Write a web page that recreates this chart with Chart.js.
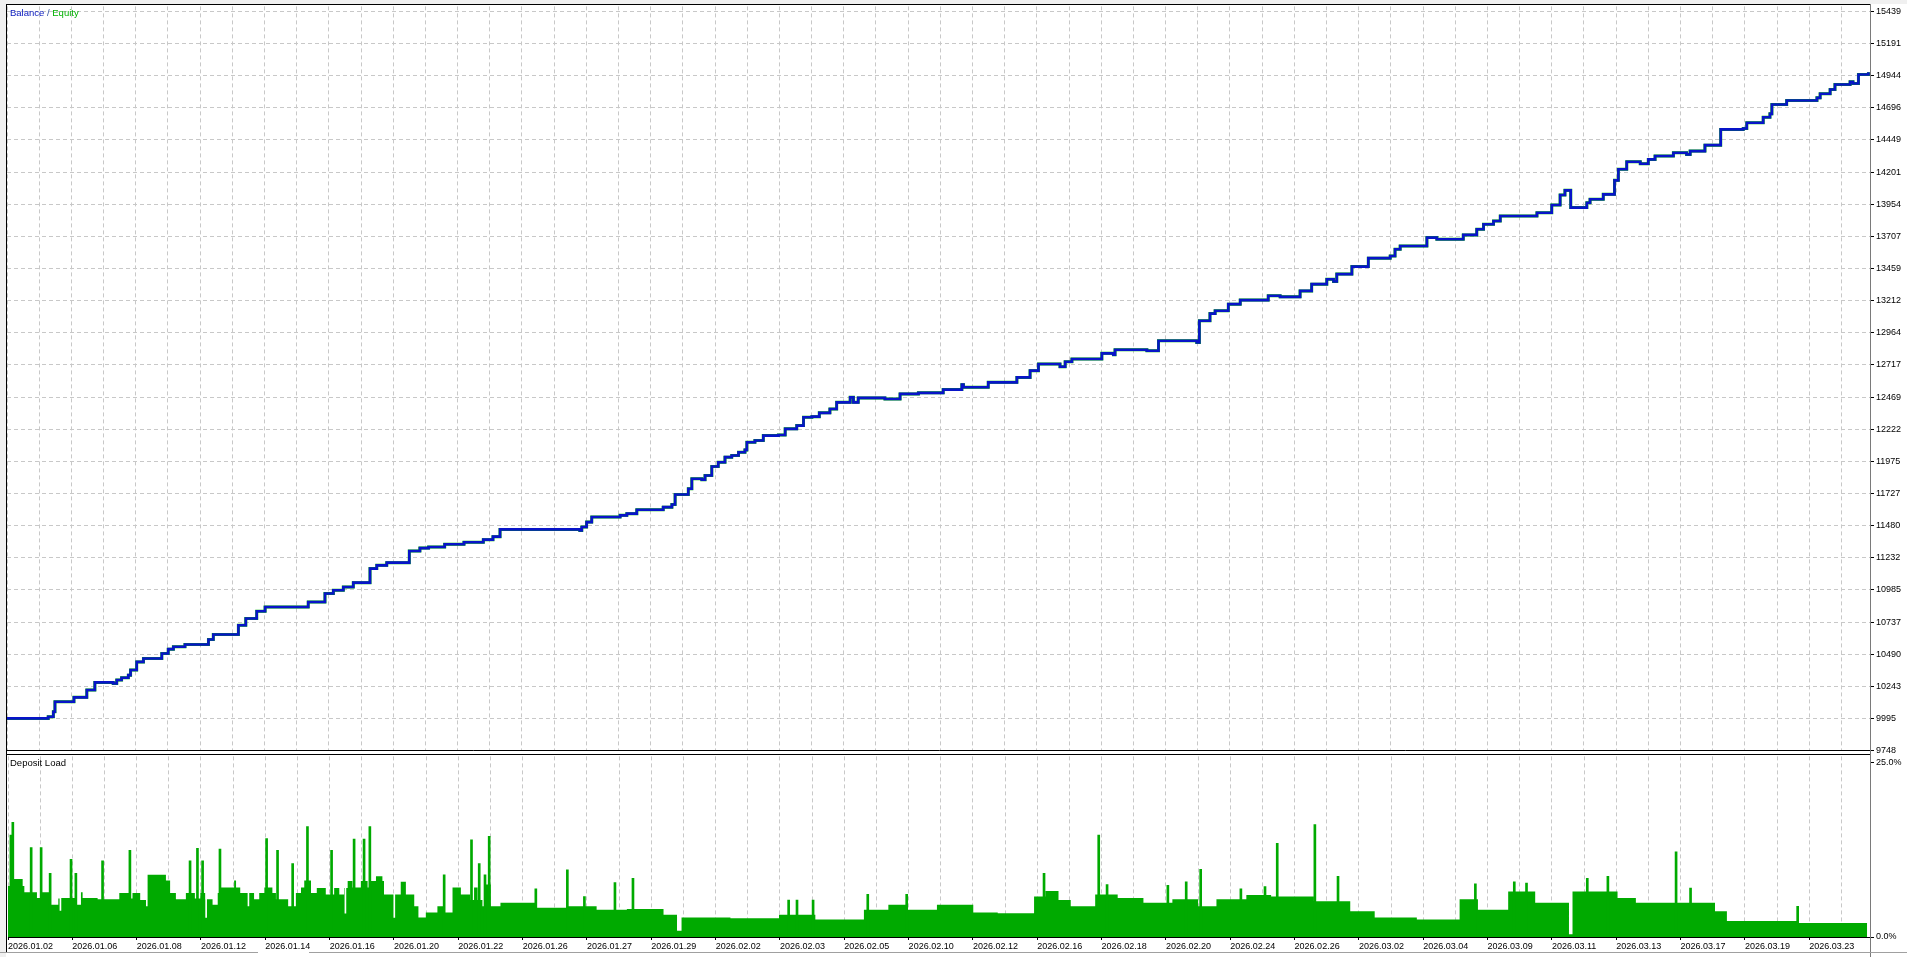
<!DOCTYPE html>
<html>
<head>
<meta charset="utf-8">
<script src="https://cdn.jsdelivr.net/npm/chart.js@4.4.1/dist/chart.umd.min.js"></script>
<style>
  html, body { margin: 0; padding: 0; background: #fff; }
  body { width: 1907px; height: 957px; position: relative; overflow: hidden;
         font-family: 'Liberation Sans', Arial, sans-serif; }
  .abs { position: absolute; }
  #cTop { position: absolute; left: 7px; top: -1px; }
  #cBot { position: absolute; left: 7px; top: 749px; }
  .lbl { position: absolute; font-size: 9.5px; white-space: nowrap; line-height: 11px; }
</style>
</head>
<body>
<div class="abs" style="left:0;top:0;width:1907px;height:4px;background:#f0f0f0"></div>
<div class="abs" style="left:0;top:0;width:6px;height:957px;background:#f0f0f0"></div>
<canvas id="cTop" width="1900" height="759"></canvas>
<canvas id="cBot" width="1900" height="204"></canvas>
<div class="abs" style="left:6px;top:4px;width:1865px;height:1px;background:#000"></div>
<div class="abs" style="left:6px;top:4px;width:1px;height:948px;background:#000"></div>
<div class="abs" style="left:6px;top:754px;width:1865px;height:1px;background:#000"></div>
<div class="abs" style="left:1870px;top:4px;width:1px;height:953px;background:#7a7a7a"></div>
<div class="abs" style="left:0;top:952px;width:258px;height:1px;background:#a0a0a0"></div>
<div class="abs" style="left:309px;top:952px;width:1598px;height:1px;background:#a0a0a0"></div>
<div class="lbl" style="left:10px;top:7px"><span style="color:#1020c0">Balance</span><span style="color:#3050a0"> / </span><span style="color:#00b000">Equity</span></div>
<div class="lbl" style="left:10px;top:757px;color:#000">Deposit Load</div>
<script>
// x = deal number (10 per grid cell), dates every 20 deals
const dateLabels = ['2026.01.02','2026.01.06','2026.01.08','2026.01.12','2026.01.14','2026.01.16','2026.01.20',
  '2026.01.22','2026.01.26','2026.01.27','2026.01.29','2026.02.02','2026.02.03','2026.02.05','2026.02.10',
  '2026.02.12','2026.02.16','2026.02.18','2026.02.20','2026.02.24','2026.02.26','2026.03.02','2026.03.04',
  '2026.03.09','2026.03.11','2026.03.13','2026.03.17','2026.03.19','2026.03.23'];

const balanceTicks = [9748, 9995, 10243, 10490, 10737, 10985, 11232, 11480, 11727, 11975, 12222, 12469,
  12717, 12964, 13212, 13459, 13707, 13954, 14201, 14449, 14696, 14944, 15191, 15439];
const loadTicks = [0, 25];

const balanceX = [0, 12.8, 14.4, 14.9, 20.8, 24.8, 27.3, 33.0, 34.1, 35.6, 37.7, 38.4, 40.3, 42.4, 48.1, 50.1,
  51.7, 55.3, 62.6, 64.1, 71.9, 74.2, 77.6, 80.2, 93.6, 98.8, 101.4, 104.5, 107.6, 112.8, 114.9, 118.0, 125.0,
  128.3, 131, 136, 142, 148, 151, 153.2, 178.0, 178.6, 180.1, 181.7, 190.5, 192.6, 195.7, 203.9, 206.6, 207.6,
  211.7, 212.8, 215.9, 216.9, 219.0, 221.0, 223.1, 225.2, 227.3, 229.3, 229.9, 232.4, 235.0, 239.7, 241.8,
  245.4, 247.5, 250.1, 252.4, 255.7, 257.8, 262.0, 263.0, 264.5, 272.8, 277.5, 283.2, 290.9, 296.7, 297.2,
  304.9, 313.8, 317.9, 320.5, 327.2, 328.8, 330.9, 340.2, 343.8, 344.3, 354.2, 357.8, 369.7, 370.5, 373.8,
  375.4, 379.5, 383.2, 391.9, 395.6, 401.8, 405.4, 410.1, 412.2, 413.2, 417.9, 423.0, 429.8, 431.3, 432.9,
  441.2, 444.3, 452.5, 456.7, 458.8, 461.9, 464.0, 475.4, 480.0, 482.6, 484.1, 485.9, 490.9, 491.9, 496.0,
  499.5, 500.7, 503.3, 507.5, 510.0, 512.1, 517.8, 521.9, 523.0, 527.6, 532.5, 539.5, 540.6, 545.7, 547.8,
  548.4, 553.0, 562.4, 563.4, 566.5, 568.0, 572.7, 573.6, 575.3, 578.4];
const balanceY = [9996, 10009, 10047, 10124, 10158, 10214, 10273, 10265, 10291, 10309, 10329, 10368, 10431,
  10457, 10496, 10529, 10547, 10565, 10603, 10642, 10713, 10765, 10821, 10854, 10892, 10957, 10982, 11008,
  11041, 11149, 11174, 11195, 11284, 11307, 11315, 11336, 11352, 11372, 11395, 11451, 11443, 11469, 11507,
  11546, 11559, 11572, 11602, 11622, 11643, 11720, 11764, 11841, 11833, 11866, 11935, 11968, 12007, 12020,
  12045, 12063, 12122, 12135, 12173, 12178, 12225, 12250, 12314, 12319, 12348, 12378, 12429, 12468, 12429,
  12463, 12455, 12494, 12502, 12527, 12565, 12545, 12583, 12621, 12673, 12724, 12703, 12742, 12763, 12806,
  12796, 12834, 12826, 12903, 12890, 13057, 13112, 13134, 13185, 13216, 13249, 13241, 13287, 13339, 13377,
  13359, 13416, 13474, 13539, 13556, 13608, 13633, 13697, 13684, 13718, 13762, 13800, 13825, 13864, 13889,
  13948, 14025, 14061, 13928, 13966, 13992, 14030, 14138, 14223, 14281, 14266, 14299, 14325, 14350, 14337,
  14363, 14409, 14530, 14537, 14581, 14624, 14650, 14722, 14753, 14773, 14804, 14837, 14876, 14896, 14883,
  14953, 14970];
// equity follows balance almost exactly
const equityY = balanceY;

// deposit load (%), stepped base level
const loadX = [0, 1.45, 4.56, 5.08, 9.0, 10.25, 13.16, 15.64, 16.47, 21.44, 22.68, 23.2, 27.86, 34.6, 37.7,
  38.7, 41.1, 42.9, 43.4, 49.1, 50.4, 52.2, 55.3, 58.1, 59.8, 61.3, 63.6, 65.2, 66.2, 70.3, 70.9, 72.2, 74.5,
  75.0, 76.5, 78.1, 79.7, 82.2, 83.3, 87.1, 89.5, 91.1, 92.1, 94.2, 96.0, 98.8, 101.4, 103.0, 104.5, 105.6,
  107.1, 109.7, 111.8, 112.8, 114.4, 116.4, 116.9, 122.1, 123.7, 126.3, 127.6, 129.9, 133.5, 135.6, 138.2,
  140.8, 143.7, 144.9, 146.0, 147.5, 148.5, 150.1, 153.1, 164.1, 174, 183, 192.4, 203.8, 208, 209.4, 224.6,
  239.7, 251, 266.1, 273.7, 279.4, 288.8, 300.1, 307.7, 319, 322.5, 326.6, 330.4, 338, 345, 353, 362, 370,
  375.7, 385, 392.7, 406, 417.3, 424.9, 438, 451.3, 457, 466.4, 474.8, 485.3, 486.4, 500.4, 506.1, 519.3,
  530.7, 534.4, 556.4, 578];
const loadY = [7.3, 8.3, 7.3, 6.4, 5.6, 6.4, 4.6, 5.5, 5.6, 4.6, 6.4, 5.6, 5.4, 6.3, 5.5, 6.3, 5.3, 4.4, 8.9,
  8.1, 6.3, 5.4, 6.3, 5.5, 6.3, 5.4, 4.6, 6.3, 7.1, 8.1, 7.1, 6.3, 4.4, 6.3, 5.4, 6.3, 7.1, 6.3, 5.4, 4.4, 6.3,
  7.1, 8.1, 6.3, 7.0, 6.1, 7.0, 6.1, 7.0, 8.0, 7.1, 8.0, 7.1, 8.0, 8.7, 8.0, 6.1, 7.9, 6.1, 4.4, 2.8, 3.5, 4.4,
  3.5, 7.1, 6.1, 5.3, 7.1, 5.3, 4.4, 7.5, 4.4, 4.9, 4.2, 4.4, 3.9, 4.0, 3.2, 0.9, 2.8, 2.7, 3.2, 2.5, 3.9, 4.6,
  3.9, 4.6, 3.5, 3.4, 5.8, 6.6, 5.3, 4.4, 6.1, 5.6, 4.9, 5.4, 4.4, 5.4, 6.0, 5.8, 5.1, 3.7, 2.8, 2.5, 5.4, 3.9,
  6.5, 4.9, 0.4, 6.5, 5.6, 4.9, 4.9, 3.7, 2.3, 2.0, 0];
// single-deal peaks
const spikeX = [0.9, 1.5, 7.2, 10.3, 13.1, 19.6, 21.1, 29.4, 37.9, 56.6, 58.9, 60.5, 65.9, 80.4, 83.8, 88.5,
  93.1, 100.6, 107.6, 110.7, 112.5, 135.6, 144.1, 146.5, 148.3, 149.6, 164.1, 173.9, 179.2, 188.7, 194.3,
  242.7, 245.3, 250.3, 267.3, 279.4, 322.1, 339.1, 341.7, 360.6, 366.3, 370.8, 383.3, 390.8, 394.6, 406.3,
  413.5, 456.2, 468.3, 472.1, 491, 497.4, 518.6, 523.1, 556.4];
const spikeY = [14.6, 16.4, 12.8, 12.8, 9.1, 11.1, 9.1, 10.9, 12.4, 10.9, 12.7, 10.9, 12.6, 14.1, 12.4, 10.5,
  15.8, 12.4, 14.0, 14.0, 15.8, 8.9, 13.9, 10.5, 8.9, 14.4, 6.9, 9.6, 5.8, 7.8, 8.4,
  5.3, 5.3, 5.3, 6.1, 6.1, 9.1, 14.6, 7.5, 7.4, 7.9, 9.7, 6.9, 7.2, 13.4, 16.1,
  8.7, 7.6, 7.9, 7.7, 8.4, 8.7, 12.2, 7.0, 4.4];
// single-deal dips (gap between low and the base level)
const dipX = [16.3, 61.6, 104.9, 120.1];
const dipLow = [3.8, 2.8, 3.4, 2.8];
const dipHigh = [5.6, 5.4, 7.0, 6.1];

const X_MAX = 579.2;
const GRID = '#c8c8c8';
const DASH = [4, 3];

Chart.defaults.font.family = "'Liberation Sans', Arial, sans-serif";
Chart.defaults.font.size = 9;
Chart.defaults.color = '#000';

function pts(xs, ys) {
  return xs.map((x, i) => ({ x: x, y: ys[i] }));
}
function xGridTicks(scale) {
  const t = [];
  for (let v = 0; v <= 570; v += 10) t.push({ value: v });
  scale.ticks = t;
}

new Chart(document.getElementById('cTop'), {
  type: 'line',
  data: {
    datasets: [
      { label: 'Balance', data: pts(balanceX, balanceY), borderColor: '#0814c8', borderWidth: 2.6,
        stepped: true, pointRadius: 0, fill: false },
      { label: 'Equity', data: pts(balanceX, equityY), borderColor: '#00b400', borderWidth: 3.0,
        stepped: true, pointRadius: 0, fill: false }
    ]
  },
  options: {
    responsive: false, animation: false, events: [],
    layout: { padding: { top: 6, bottom: 6, left: 0, right: 0 } },
    plugins: { legend: { display: false }, tooltip: { enabled: false } },
    scales: {
      x: {
        type: 'linear', min: 0, max: X_MAX, offset: false,
        afterBuildTicks: xGridTicks,
        afterFit: s => { s.height = 0; },
        ticks: { display: false },
        grid: { color: GRID, drawTicks: false, offset: false },
        border: { display: true, color: '#000', width: 1, dash: DASH }
      },
      y: {
        position: 'right', min: 9748, max: 15477,
        afterBuildTicks: s => { s.ticks = balanceTicks.map(v => ({ value: v })); },
        afterFit: s => { s.width = 36; },
        ticks: { padding: 2, callback: v => String(v) },
        grid: { color: GRID, tickLength: 3, tickColor: '#000' },
        border: { display: false, dash: DASH }
      }
    }
  }
});

new Chart(document.getElementById('cBot'), {
  type: 'line',
  data: {
    datasets: [
      { type: 'bar', label: 'dips', data: dipX.map((x, i) => ({ x: x, y: [dipLow[i], dipHigh[i]] })),
        backgroundColor: '#ffffff', barThickness: 1, grouped: false, borderWidth: 0 },
      { type: 'bar', label: 'peaks', data: pts(spikeX, spikeY), backgroundColor: '#00aa00',
        barThickness: 2, grouped: false, borderWidth: 0 },
      { label: 'Deposit Load', data: pts(loadX, loadY), borderWidth: 0, borderColor: '#00aa00',
        backgroundColor: '#00aa00', stepped: true, pointRadius: 0, fill: 'origin' }
    ]
  },
  options: {
    responsive: false, animation: false, events: [],
    layout: { padding: { top: 6, bottom: 0, left: 0, right: 0 } },
    plugins: { legend: { display: false }, tooltip: { enabled: false } },
    scales: {
      x: {
        type: 'linear', min: 0, max: X_MAX, offset: false,
        afterBuildTicks: xGridTicks,
        afterFit: s => { s.height = 16; },
        ticks: { align: 'start', autoSkip: false, maxRotation: 0, padding: 1,
                 callback: v => (v % 20 === 0 ? dateLabels[v / 20] : '') },
        grid: { color: GRID, offset: false, tickLength: 3,
                tickColor: c => (c.tick && c.tick.value % 20 === 0 ? '#000' : 'rgba(0,0,0,0)') },
        border: { display: true, color: '#000', width: 1, dash: DASH }
      },
      y: {
        position: 'right', min: 0, max: 25.85,
        afterBuildTicks: s => { s.ticks = loadTicks.map(v => ({ value: v })); },
        afterFit: s => { s.width = 36; },
        ticks: { padding: 2, callback: v => v.toFixed(1) + '%' },
        grid: { drawOnChartArea: false, tickLength: 3, tickColor: '#000' },
        border: { display: false }
      }
    }
  }
});
</script>
</body>
</html>
